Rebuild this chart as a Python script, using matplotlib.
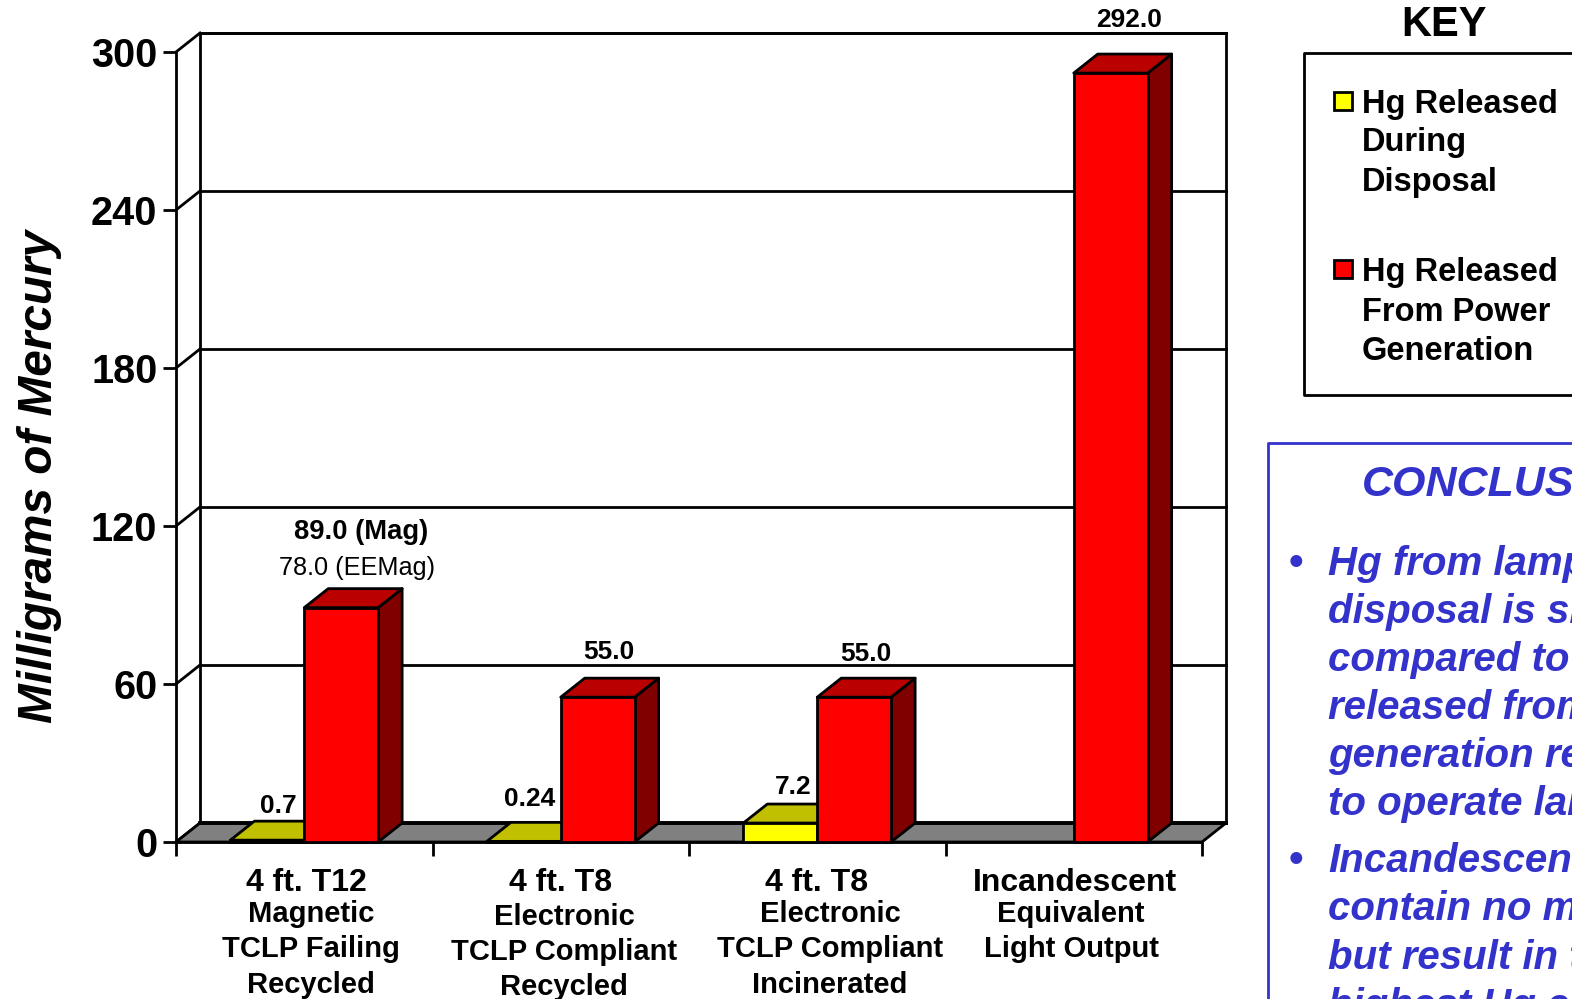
import matplotlib as mpl
mpl.use('Agg')
import matplotlib.pyplot as plt
from matplotlib.patches import Polygon, Rectangle

W, H = 1572, 999

plt.rcParams['font.family'] = ['Liberation Sans', 'DejaVu Sans']

# mg of mercury per lamp scenario
disposal = [0.7, 0.24, 7.2, 0]
power = [89.0, 55.0, 55.0, 292.0]
disposal_labels = ['0.7', '0.24', '7.2', None]
power_labels = ['89.0 (Mag)', '55.0', '55.0', '292.0']
yticks = [0, 60, 120, 180, 240, 300]

cat_lines = [
    ['4 ft. T12', 'Magnetic', 'TCLP Failing', 'Recycled'],
    ['4 ft. T8', 'Electronic', 'TCLP Compliant', 'Recycled'],
    ['4 ft. T8', 'Electronic', 'TCLP Compliant', 'Incinerated'],
    ['Incandescent', 'Equivalent', 'Light Output'],
]
key_yellow = ['Hg Released', 'During', 'Disposal']
key_red = ['Hg Released', 'From Power', 'Generation']
bullet1 = ['Hg from lamp', 'disposal is sm', 'compared to', 'released from',
           'generation re', 'to operate lam']
bullet2 = ['Incandescent', 'contain no m', 'but result in t', 'highest Hg e']

YELLOW, YELLOW_TOP = '#ffff00', '#c0c000'
RED, RED_TOP, RED_SIDE = '#ff0000', '#bb0000', '#800000'
BLUE = '#3333cc'

# 3D look: depth of the box, in data units
DX = 24 / 256.5
DY = 19 / 2.633
BAR_W = 0.288
LW = 2.0


def fx(px):
    return px / W


def fy(px):
    return 1 - px / H


def label(px, py, s, size, **kw):
    kw.setdefault('fontweight', 'bold')
    kw.setdefault('ha', 'center')
    kw.setdefault('va', 'center')
    return fig.text(fx(px), fy(py), s, fontsize=size, **kw)


def bar3d(ax, x0, x1, val, front, top, side):
    ax.add_patch(Polygon([(x1, 0), (x1 + DX, DY), (x1 + DX, val + DY), (x1, val)],
                         fc=side, ec='k', lw=LW, joinstyle='round', clip_on=False, zorder=4))
    ax.add_patch(Polygon([(x0, val), (x1, val), (x1 + DX, val + DY), (x0 + DX, val + DY)],
                         fc=top, ec='k', lw=LW, joinstyle='round', clip_on=False, zorder=4))
    ax.add_patch(Rectangle((x0, 0), x1 - x0, val, fc=front, ec='k', lw=LW, clip_on=False, zorder=4))


fig = plt.figure(figsize=(W / 100, H / 100), dpi=100, facecolor='white')
ax = fig.add_axes([fx(176), fy(842), fx(1202) - fx(176), (842 - 52) / H])
ax.set_xlim(0, 4)
ax.set_ylim(0, 300)
ax.patch.set_visible(False)
for s in ['top', 'right']:
    ax.spines[s].set_visible(False)
for s in ['left', 'bottom']:
    ax.spines[s].set_linewidth(LW)

ax.set_yticks(yticks)
ax.set_xticks(range(5))
ax.set_xticklabels([])
ax.tick_params(axis='y', length=9.5, width=LW, pad=4, labelsize=28.5)
ax.tick_params(axis='x', length=10, width=LW)
for t in ax.get_yticklabels():
    t.set_fontweight('bold')

# back wall, gridlines and the floor
ax.add_patch(Polygon([(DX, DY), (4 + DX, DY), (4 + DX, 300 + DY), (DX, 300 + DY)],
                     fc='white', ec='k', lw=LW, clip_on=False, zorder=1))
for v in yticks:
    ax.plot([0, DX], [v, v + DY], color='k', lw=LW, clip_on=False, zorder=2)
    ax.plot([DX, 4 + DX], [v + DY, v + DY], color='k', lw=LW, clip_on=False, zorder=2)
ax.add_patch(Polygon([(0, 0), (4, 0), (4 + DX, DY), (DX, DY)],
                     fc='#808080', ec='k', lw=LW, clip_on=False, zorder=3))
ax.plot([DX, 4 + DX], [DY, DY], color='k', lw=2.8, clip_on=False, zorder=3)

for i in range(4):
    c = i + 0.5
    if disposal[i] > 0:
        bar3d(ax, c - BAR_W, c, disposal[i], YELLOW, YELLOW_TOP, YELLOW_TOP)
    bar3d(ax, c, c + BAR_W, power[i], RED, RED_TOP, RED_SIDE)

label(40, 476, 'Milligrams of Mercury', 34.4, style='italic', rotation=90)

# value labels
disp_pos = [(278, 806), (530, 799), (793, 787)]
for s, (x, y) in zip(disposal_labels, disp_pos):
    label(x, y, s, 19)
pow_pos = [(361, 532), (609, 652), (866, 654), (1129, 20)]
power_sizes = [19.7, 19, 19, 19]
for s, (x, y), fs in zip(power_labels, pow_pos, power_sizes):
    label(x, y, s, fs)
label(357, 568, '78.0 (EEMag)', 18.2, fontweight='normal')

# category labels, one text per line
first_x = [306, 561, 817, 1075]
other_x = [311, 564, 830, 1071]
line_y = [[883, 914, 949, 985], [883, 917, 952, 987], [883, 914, 949, 985], [883, 914, 949]]
for i, lines in enumerate(cat_lines):
    for j, s in enumerate(lines):
        if j == 0:
            label(first_x[i], line_y[i][j], s, 23)
        else:
            label(other_x[i], line_y[i][j], s, 21)

# key box
label(1444, 25, 'KEY', 30)
fig.add_artist(plt.Line2D([fx(1600), fx(1304), fx(1304), fx(1600)],
                          [fy(53), fy(53), fy(395), fy(395)], color='k', lw=LW))
for sw_y, col, lines, ys in [(92, YELLOW, key_yellow, [104, 143, 182]),
                             (260, RED, key_red, [273, 312, 351])]:
    fig.add_artist(Rectangle((fx(1334), fy(sw_y + 18)), 18 / W, 18 / H, fc=col, ec='k', lw=LW,
                             transform=fig.transFigure))
    for s, y in zip(lines, ys):
        label(1362, y, s, 23.5, ha='left')

# conclusions box runs off the right and bottom edge
fig.add_artist(plt.Line2D([fx(1600), fx(1268), fx(1268)], [fy(443), fy(443), fy(1010)],
                          color=BLUE, lw=LW))
label(1362, 485, 'CONCLUS', 31, ha='left', color=BLUE, style='italic')
for lines, ys in [(bullet1, [564, 612, 660, 708, 756, 804]), (bullet2, [861, 909, 958, 1006])]:
    label(1296, ys[0], '\u2022', 30, color=BLUE)
    for s, y in zip(lines, ys):
        label(1328, y, s, 29, ha='left', color=BLUE, style='italic')

fig.savefig('out.png', dpi=100)
